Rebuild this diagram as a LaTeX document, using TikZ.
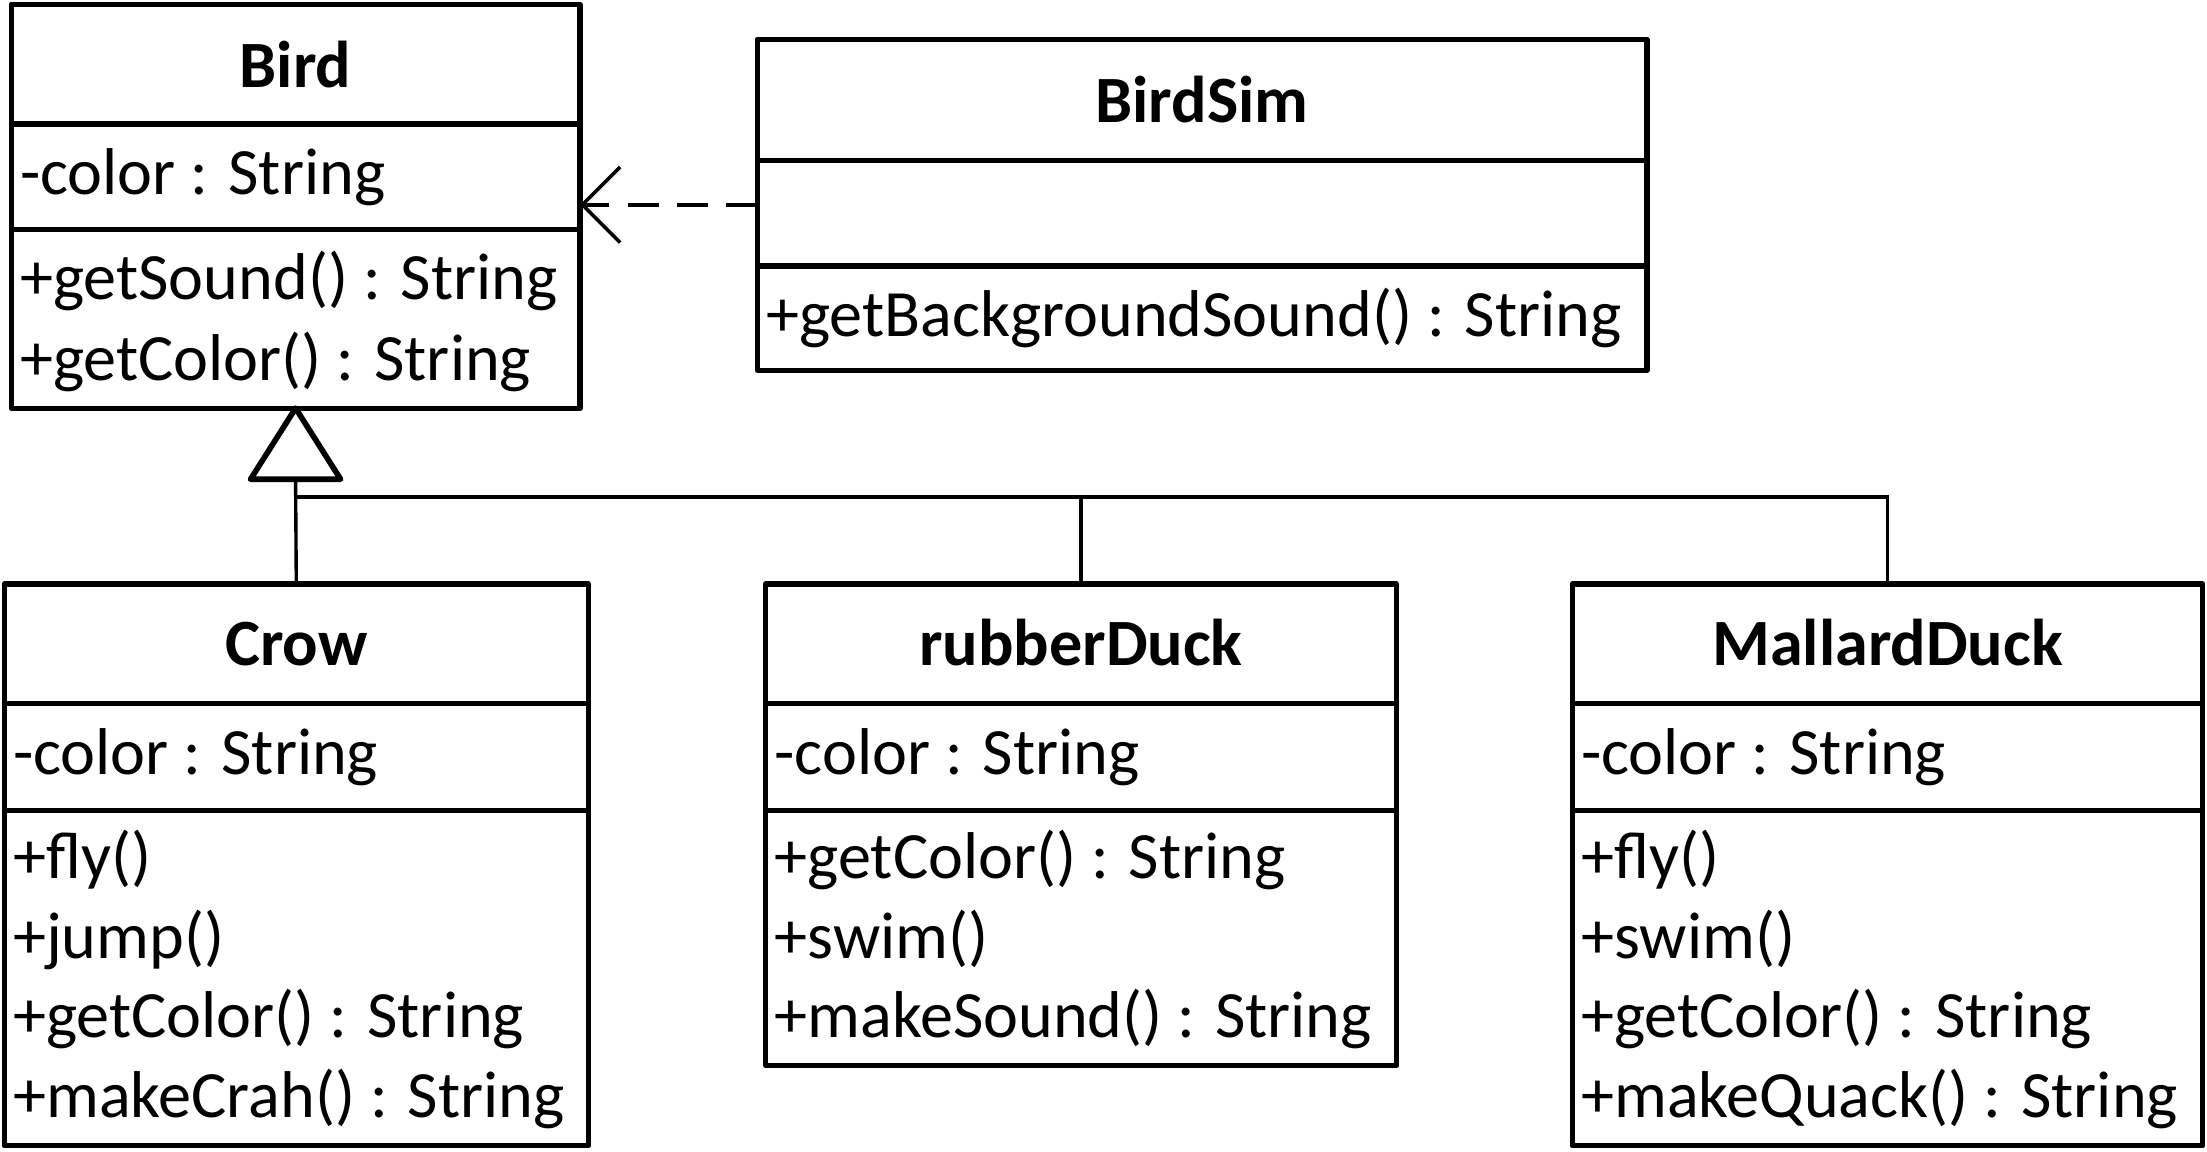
\documentclass[tikz,border=0pt]{standalone}
\usepackage{fontspec}
\setmainfont{Carlito}
\usetikzlibrary{arrows.meta}
\begin{document}
\begin{tikzpicture}[x=0.5pt,y=-0.5pt,
  classbox/.style={draw, line width=1.9pt, line join=round, inner sep=0pt, outer sep=0pt, anchor=north west},
  divider/.style={line width=1.9pt},
  ctitle/.style={font=\fontsize{23.5pt}{28pt}\selectfont\bfseries, inner sep=0pt, anchor=base},
  member/.style={font=\fontsize{23.5pt}{28pt}\selectfont, inner sep=0pt, anchor=base west},
  conn/.style={line width=1.2pt},
  depend/.style={line width=1.25pt, dash pattern=on 11pt off 6.5pt, -{Straight Barb[length=13.4pt, width=26.8pt, line width=1.25pt]}},
  genhead/.style={line width=2pt, line join=round}]
\useasboundingbox (0,0) rectangle (1568,818);

% Bird
\node[classbox, minimum width=202pt, minimum height=143.5pt] (bird) at (8,3) {};
\draw[divider] (bird.west |- 0,88) -- (bird.east |- 0,88);
\draw[divider] (bird.west |- 0,163) -- (bird.east |- 0,163);
\node[ctitle] (birdT) at (210,62) {Bird};
\node[member] (birdA1) at (14,138) {-color : String};
\node[member] (birdM1) at (14,213) {+getSound() : String};
\node[member] (birdM2) at (14,270) {+getColor() : String};

% BirdSim
\node[classbox, minimum width=316pt, minimum height=117.5pt] (birdsim) at (538,28) {};
\draw[divider] (birdsim.west |- 0,114) -- (birdsim.east |- 0,114);
\draw[divider] (birdsim.west |- 0,189) -- (birdsim.east |- 0,189);
\node[ctitle] (birdsimT) at (854,87) {BirdSim};
\node[member] (birdsimM1) at (544,239) {+getBackgroundSound() : String};

% Crow
\node[classbox, minimum width=207.5pt, minimum height=199.5pt] (crow) at (3,415) {};
\draw[divider] (crow.west |- 0,500) -- (crow.east |- 0,500);
\draw[divider] (crow.west |- 0,576) -- (crow.east |- 0,576);
\node[ctitle] (crowT) at (210.5,473) {Crow};
\node[member] (crowA1) at (9,550) {-color : String};
\node[member] (crowM1) at (9,624) {+fly()};
\node[member] (crowM2) at (9,681) {+jump()};
\node[member] (crowM3) at (9,737) {+getColor() : String};
\node[member] (crowM4) at (9,794) {+makeCrah() : String};

% rubberDuck
\node[classbox, minimum width=224pt, minimum height=171pt] (rubber) at (544,415) {};
\draw[divider] (rubber.west |- 0,500) -- (rubber.east |- 0,500);
\draw[divider] (rubber.west |- 0,576) -- (rubber.east |- 0,576);
\node[ctitle] (rubberT) at (768,473) {rubberDuck};
\node[member] (rubberA1) at (550,550) {-color : String};
\node[member] (rubberM1) at (550,624) {+getColor() : String};
\node[member] (rubberM2) at (550,681) {+swim()};
\node[member] (rubberM3) at (550,737) {+makeSound() : String};

% MallardDuck
\node[classbox, minimum width=224pt, minimum height=199.5pt] (mallard) at (1117,415) {};
\draw[divider] (mallard.west |- 0,500) -- (mallard.east |- 0,500);
\draw[divider] (mallard.west |- 0,576) -- (mallard.east |- 0,576);
\node[ctitle] (mallardT) at (1341,473) {MallardDuck};
\node[member] (mallardA1) at (1123,550) {-color : String};
\node[member] (mallardM1) at (1123,624) {+fly()};
\node[member] (mallardM2) at (1123,681) {+swim()};
\node[member] (mallardM3) at (1123,737) {+getColor() : String};
\node[member] (mallardM4) at (1123,794) {+makeQuack() : String};

% dependency BirdSim -> Bird
\draw[depend] (birdsim.west) -- (birdsim.west -| bird.east);

% generalization
\path (bird.south) ++(0,50.5) coordinate (tb);
\coordinate (jn) at (tb |- 0,353);
\draw[conn] (tb) -- (crow.north);
\draw[conn] (jn) -| (rubber.north);
\draw[conn] (jn) -| (mallard.north);
\draw[genhead, fill=white] (bird.south) -- ++(-32,50.5) -- ++(64,0) -- cycle;
\end{tikzpicture}
\end{document}
